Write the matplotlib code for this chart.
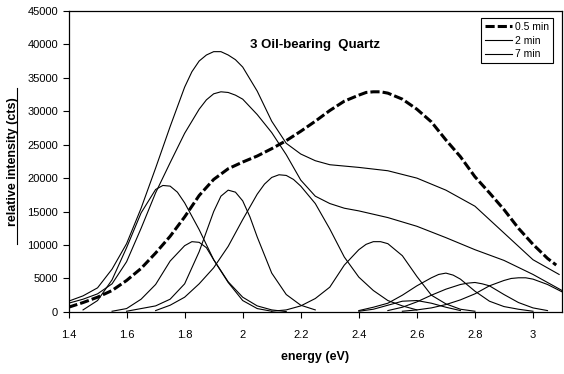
import matplotlib
matplotlib.use('Agg')
import matplotlib.pyplot as plt
from matplotlib.lines import Line2D

plt.rcParams['font.family'] = ['Liberation Sans', 'DejaVu Sans']

# measured spectra (energy in eV, counts)
x_05 = [1.40, 1.45, 1.50, 1.55, 1.60, 1.65, 1.70, 1.75, 1.80, 1.85, 1.90, 1.95, 2.00, 2.05,
        2.10, 2.15, 2.20, 2.25, 2.30, 2.35, 2.40, 2.425, 2.45, 2.475, 2.50, 2.55, 2.60, 2.65, 2.70, 2.75,
        2.80, 2.85, 2.90, 2.95, 3.00, 3.05, 3.08]
y_05 = [700, 1400, 2200, 3200, 4700, 6500, 8800, 11300, 14200, 17400, 19800, 21400, 22400, 23300,
        24400, 25600, 27000, 28500, 30100, 31500, 32400, 32800, 32900, 32900, 32700, 31800, 30300, 28400, 25700, 23200,
        20200, 17800, 15300, 12500, 10100, 8000, 7000]

x_2 = [1.40, 1.45, 1.50, 1.55, 1.60, 1.65, 1.70, 1.75, 1.80, 1.825, 1.85, 1.875, 1.90, 1.925, 1.95,
       1.975, 2.00, 2.05, 2.10, 2.15, 2.20, 2.25, 2.30, 2.35, 2.40, 2.50, 2.60, 2.70, 2.80, 2.90, 3.00, 3.09]
y_2 = [1600, 2400, 3600, 6400, 10200, 15500, 21500, 27700, 33600, 35900, 37500, 38400, 38900, 38900, 38400,
       37700, 36600, 33000, 28500, 25200, 23600, 22600, 22000, 21800, 21600, 21100, 20000, 18200, 15800, 11800, 7800, 5600]

x_7 = [1.40, 1.45, 1.50, 1.55, 1.60, 1.65, 1.70, 1.75, 1.80, 1.85, 1.875, 1.90, 1.925, 1.95, 1.975,
       2.00, 2.05, 2.10, 2.15, 2.20, 2.25, 2.30, 2.35, 2.40, 2.50, 2.60, 2.70, 2.80, 2.90, 3.00, 3.10]
y_7 = [1300, 1900, 2700, 4200, 7500, 12500, 17800, 22300, 26700, 30300, 31700, 32600, 32900, 32800, 32400,
       31800, 29500, 26800, 23500, 19700, 17300, 16200, 15500, 15100, 14100, 12800, 11100, 9300, 7700, 5600, 3200]

# fitted components
xa = [1.45, 1.50, 1.55, 1.60, 1.65, 1.70, 1.725, 1.75, 1.775, 1.80, 1.85, 1.90, 1.95, 2.00, 2.05, 2.10, 2.15]
ya = [300, 1700, 4800, 9600, 14800, 18300, 18900, 18800, 17900, 16300, 12300, 7800, 4500, 2200, 900, 300, 50]

xb = [1.55, 1.60, 1.65, 1.70, 1.75, 1.80, 1.825, 1.85, 1.875, 1.90, 1.95, 2.00, 2.05, 2.10]
yb = [100, 500, 1900, 4100, 7600, 9900, 10500, 10400, 9600, 7800, 4400, 1700, 500, 100]

xc = [1.60, 1.65, 1.70, 1.75, 1.80, 1.85, 1.90, 1.925, 1.95, 1.975, 2.00, 2.025, 2.05, 2.10, 2.15, 2.20, 2.25]
yc = [100, 500, 900, 1900, 4200, 9000, 15000, 17300, 18200, 17900, 16600, 14200, 11200, 5800, 2600, 1000, 300]

xd = [1.70, 1.75, 1.80, 1.85, 1.90, 1.95, 2.00, 2.05, 2.075, 2.10, 2.125, 2.15, 2.175, 2.20, 2.25, 2.30, 2.35,
      2.40, 2.45, 2.50, 2.55, 2.60]
yd = [200, 1000, 2200, 4200, 6600, 9800, 13800, 17600, 19100, 20100, 20500, 20400, 19800, 18800, 16200, 12400, 8200,
      5200, 3200, 1700, 900, 300]

xe = [2.10, 2.15, 2.20, 2.25, 2.30, 2.35, 2.40, 2.425, 2.45, 2.475, 2.50, 2.55, 2.60, 2.65, 2.70, 2.75, 2.80]
ye = [100, 300, 900, 2000, 3700, 7000, 9300, 10100, 10500, 10500, 10200, 8400, 5300, 2500, 1200, 400, 100]

xf = [2.40, 2.45, 2.50, 2.55, 2.60, 2.65, 2.70, 2.75]
yf = [100, 400, 1000, 1600, 1700, 1300, 700, 200]

xg = [2.40, 2.45, 2.50, 2.55, 2.60, 2.65, 2.675, 2.70, 2.725, 2.75, 2.80, 2.85, 2.90, 2.95, 3.00]
yg = [200, 700, 1300, 2500, 3900, 5100, 5600, 5800, 5500, 4900, 3100, 1600, 800, 400, 100]

xh = [2.50, 2.55, 2.60, 2.65, 2.70, 2.75, 2.775, 2.80, 2.825, 2.85, 2.90, 2.95, 3.00, 3.05]
yh = [200, 700, 1500, 2500, 3400, 4100, 4300, 4400, 4200, 3900, 2600, 1400, 600, 200]

xi = [2.55, 2.60, 2.65, 2.70, 2.75, 2.80, 2.85, 2.90, 2.925, 2.95, 2.975, 3.00, 3.05, 3.10]
yi = [100, 300, 600, 1100, 1800, 2700, 3900, 4700, 5000, 5100, 5100, 4900, 4100, 3000]

components = [(xa, ya), (xb, yb), (xc, yc), (xd, yd), (xe, ye), (xf, yf), (xg, yg), (xh, yh), (xi, yi)]

xticks = [1.4, 1.6, 1.8, 2.0, 2.2, 2.4, 2.6, 2.8, 3.0]
xtick_labels = ['1.4', '1.6', '1.8', '2', '2.2', '2.4', '2.6', '2.8', '3']
yticks = [0, 5000, 10000, 15000, 20000, 25000, 30000, 35000, 40000, 45000]

fig = plt.figure(figsize=(5.64, 3.74), dpi=100)
ax = fig.add_axes([0.1215, 0.166, 0.875, 0.805])

for cx, cy in components:
    ax.plot(cx, cy, color='black', lw=0.8)

ax.plot(x_7, y_7, color='black', lw=0.8, label='7 min')
ax.plot(x_2, y_2, color='black', lw=0.8, label='2 min')
ax.plot(x_05, y_05, color='black', lw=2.2, dashes=(3, 1), label='0.5 min')

ax.set_xlim(1.4, 3.1)
ax.set_ylim(0, 45000)
ax.set_xticks(xticks)
ax.set_xticklabels(xtick_labels)
ax.set_yticks(yticks)
ax.set_yticklabels([str(v) for v in yticks])
ax.tick_params(direction='out', length=4, width=0.8, labelsize=8, colors='black')
ax.tick_params(axis='x', pad=9)
for s in ax.spines.values():
    s.set_linewidth(0.9)

ax.set_xlabel('energy (eV)', fontsize=9, fontweight='bold', labelpad=8)
ax.set_ylabel('relative intensity (cts)', fontsize=9, fontweight='bold', labelpad=6)
ax.text(0.5, 0.885, '3 Oil-bearing  Quartz', transform=ax.transAxes, ha='center', va='center',
        fontsize=9.5, fontweight='bold')

# underline of the y label
fig.add_artist(Line2D([17 / 564, 17 / 564], [1 - 244 / 374, 1 - 88 / 374], color='black', lw=0.8))

h, l = ax.get_legend_handles_labels()
leg = ax.legend(h[::-1], l[::-1], loc='upper right', bbox_to_anchor=(0.982, 0.977), fontsize=7.5,
                frameon=True, fancybox=False, edgecolor='black', framealpha=1, borderaxespad=0,
                handlelength=2.6, handletextpad=0.3, labelspacing=0.35, borderpad=0.4)
leg.get_frame().set_linewidth(0.8)

plt.savefig('out.png', dpi=100)
